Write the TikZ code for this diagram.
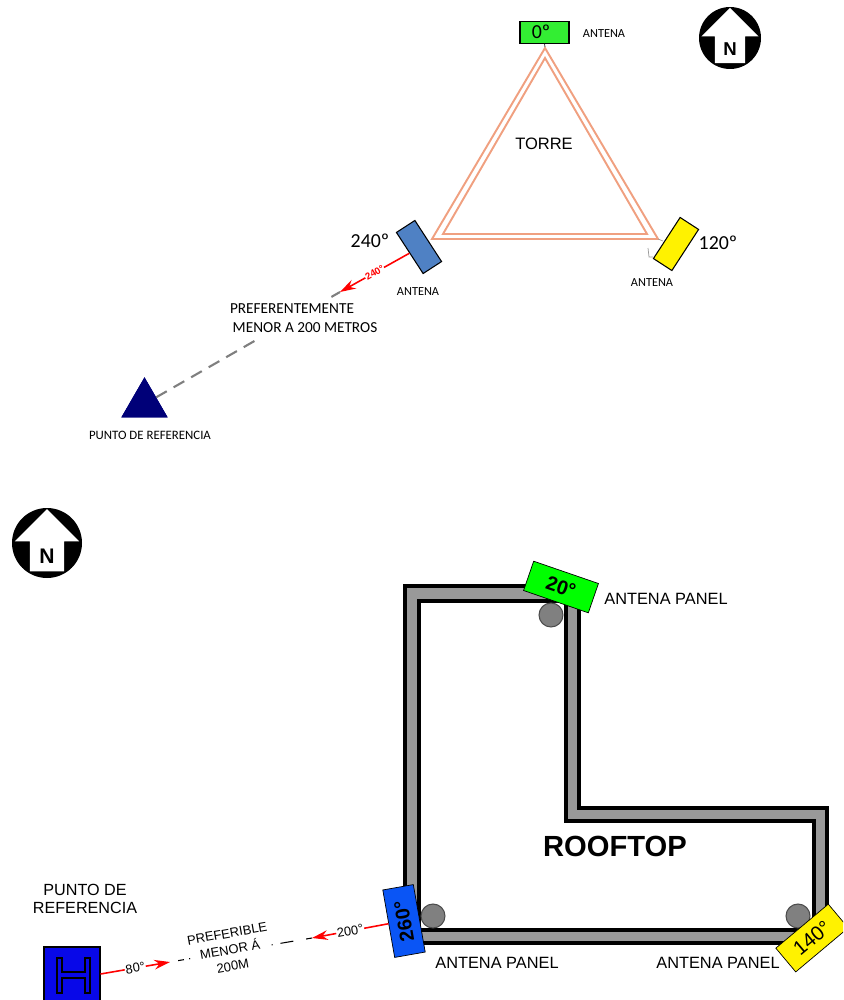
\documentclass[tikz,border=0pt]{standalone}
\usepackage{fontspec}
\setmainfont{Liberation Sans}
\newfontfamily\calfont{Carlito}
\usetikzlibrary{arrows.meta,calc,positioning,shapes.geometric}
\definecolor{towerline}{HTML}{F0A080}
\definecolor{wallgray}{HTML}{999999}
\definecolor{polegray}{HTML}{808080}
\definecolor{dashgray}{HTML}{7F7F7F}
\definecolor{antblue}{HTML}{4F81C4}
\definecolor{antgreen}{HTML}{33EE33}
\definecolor{navytri}{HTML}{000078}
\definecolor{panblue}{HTML}{0A55F5}
\definecolor{boxblue}{HTML}{0808E8}

\begin{document}
\begin{tikzpicture}[x=0.02cm,y=-0.02cm,>=Stealth,
    antbox/.style={draw=black,line width=0.6pt,inner sep=0pt,minimum width=0.98cm,minimum height=0.44cm},
    panbox/.style={draw=black,line width=0.4pt,inner sep=0pt,minimum width=1.37cm,minimum height=0.62cm},
    pole/.style={circle,draw=black!70,line width=0.6pt,fill=polegray,inner sep=0pt,minimum size=0.48cm},
    redline/.style={draw=red,line width=0.9pt,-{Stealth[length=9pt,width=5.5pt]}},
    calsmall/.style={font=\calfont\fontsize{7}{8}\selectfont},
    calnote/.style={font=\calfont\fontsize{8.7}{10}\selectfont,fill=white,inner sep=3pt},
    caldeg/.style={font=\calfont\fontsize{11.3}{12}\selectfont},
    panlabel/.style={font=\fontsize{9.3}{10}\selectfont},
    lineval/.style={font=\fontsize{7.3}{8}\selectfont,rotate=10,fill=white,inner sep=0.5pt}]
  \clip (0,0) rectangle (843,1000);

  % north marks
  \foreach \cx/\cy/\r/\fs/\name in {730/38/31/10.6/a,47/543/35/12/b} {
    \begin{scope}[shift={(\cx,\cy)},scale=\r]
      \fill[black] (0,0) circle (1);
      \fill[white] (0,-0.97) -- (0.92,-0.05) -- (0.49,-0.05) -- (0.49,0.81)
        -- (-0.49,0.81) -- (-0.49,-0.05) -- (-0.92,-0.05) -- cycle;
      \node[font=\bfseries\fontsize{\fs}{12}\selectfont,inner sep=0pt] (N\name) at (0,0.37) {N};
    \end{scope}
  }

  % tower
  \draw[towerline,line width=1.1pt] (545,48) -- (658,239) -- (432,239) -- cycle;
  \draw[towerline,line width=1.1pt] (545,58) -- (647,234) -- (443,234) -- cycle;
  \coordinate (apex) at (545,47);
  \node[font=\fontsize{9.4}{10}\selectfont] (torre) at (544,144) {TORRE};
  \node[antbox,fill=antgreen] (antA) at (544.5,32.5) {};
  \node[antbox,fill=antblue,rotate=-57] (antB) at (419,247) {};
  \node[antbox,fill=yellow,rotate=57] (antC) at (676,244) {};
  \draw[black!70,line width=0.5pt] (antA.south) -- (apex);
  \draw[black!40,line width=0.4pt] (658,239) -- (663,241);
  \draw[black!40,line width=0.4pt] (648,248) -- (649,257) -- (653,257);
  \node[caldeg] (degA) at (541,32) {0º};
  \node[caldeg] (degB) at (370,241) {240º};
  \node[caldeg] (degC) at (718,243) {120º};
  \node[calsmall] (labA) at (604,34) {ANTENA};
  \node[calsmall] (labB) at (418,292) {ANTENA};
  \node[calsmall] (labC) at (652,283) {ANTENA};

  % reference point, top
  \node[regular polygon,regular polygon sides=3,fill=navytri,draw=navytri,inner sep=0pt,minimum size=1.04cm] (refT) at (144.5,404) {};
  \coordinate (tipT) at (340,292);
  \draw[dashgray,line width=1.2pt,dash pattern=on 7pt off 4.5pt] (refT) -- (tipT);
  \fill[navytri] (refT.corner 1) -- (refT.corner 2) -- (refT.corner 3) -- cycle;
  \draw[redline] (antB.south) -- node[midway,font=\bfseries\fontsize{5.5}{6}\selectfont,text=red,rotate=30,fill=white,inner sep=0.3pt] (valT) {240°} (tipT);
  \node[calnote] (noteB) at (305,328) {MENOR A 200 METROS};
  \node[calnote] (noteA) at (292,309) {PREFERENTEMENTE};
  \node[font=\calfont\fontsize{7.3}{8}\selectfont] (labR) at (150,435) {PUNTO DE REFERENCIA};

  % rooftop
  \filldraw[draw=black,fill=wallgray,line width=2.2pt,even odd rule]
    (405,586) -- (579,586) -- (579,808) -- (827,808) -- (827,943) -- (405,943) -- cycle
    (419,601) -- (566,601) -- (566,821) -- (814,821) -- (814,930) -- (419,930) -- cycle;
  \node[pole] (poleA) at (551,615) {};
  \node[pole] (poleB) at (433,916) {};
  \node[pole] (poleC) at (798,916) {};
  \node[font=\bfseries\fontsize{16.6}{18}\selectfont] (roof) at (615,846) {ROOFTOP};
  \node[panbox,fill=green,rotate=-19,font=\bfseries\fontsize{11.3}{12}\selectfont] (panA) at (561,587) {20°};
  \node[panbox,fill=panblue,rotate=100,font=\bfseries\fontsize{11.3}{12}\selectfont] (panB) at (404,921) {260°};
  \node[panbox,fill=yellow,rotate=40,font=\fontsize{11.5}{12}\selectfont] (panC) at (812,938) {140°};
  \node[panlabel] (labD) at (666,599) {ANTENA PANEL};
  \node[panlabel] (labE) at (497,963) {ANTENA PANEL};
  \node[panlabel] (labF) at (718,963) {ANTENA PANEL};

  % reference point, bottom
  \node[draw=black,line width=0.6pt,fill=boxblue,inner sep=0pt,minimum width=1.12cm,minimum height=1.08cm] (refB) at (72,974) {};
  \draw[black,line width=0.6pt] (57,958) -- (62,958) -- (62,972) -- (85,972) -- (85,958) -- (90,958) -- (90,993)
    -- (85,993) -- (85,978) -- (62,978) -- (62,993) -- (57,993) -- cycle;
  \node[align=center,font=\fontsize{9.2}{10.4}\selectfont,inner sep=0pt] (labG) at (85,899) {PUNTO DE\\REFERENCIA};
  \coordinate (tipL) at (170,962);
  \coordinate (tipR) at (312,938);
  \draw[black,line width=0.6pt,dash pattern=on 3.4pt off 7.4pt on 7.4pt off 4.5pt on 0.6pt off 47pt on 0.6pt off 3pt on 3.4pt off 20pt] (tipR) -- (tipL);
  \draw[redline] (panB.north) -- node[lineval] (valR) {200°} (tipR);
  \draw[redline] (refB.east) -- node[lineval] (valL) {80°} (tipL);
  \node[rotate=10,align=center,font=\fontsize{7.4}{9.4}\selectfont,inner sep=0pt] (noteC) at (230,950) {PREFERIBLE\\MENOR Á\\200M};
\end{tikzpicture}
\end{document}
